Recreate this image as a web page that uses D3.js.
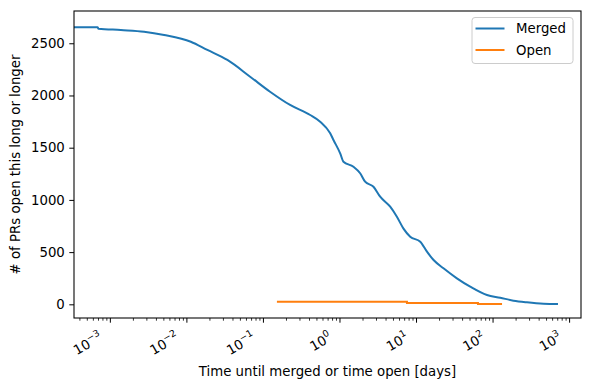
<!DOCTYPE html>
<html>
<head>
<meta charset="utf-8">
<script src="https://cdn.jsdelivr.net/npm/d3@7"></script>
<style>
  body { margin: 0; background: #fff; }
  text { font-family: "DejaVu Sans", sans-serif; fill: #000; }
</style>
</head>
<body>
<script>
// merged PRs: days until merged vs. number of PRs open at least that long
const MERGED_DAYS = [0.0003, 0.00068, 0.0007, 0.00137, 0.00276, 0.00504, 0.01125, 0.0185, 0.0338,
  0.067, 0.122, 0.223, 0.408, 0.551, 0.745, 0.822, 1.006, 1.11, 1.5, 1.835, 2.13, 2.74, 3.35,
  4.53, 5.54, 6.76, 8.27, 11.2, 13.7, 16.7, 22.5, 33.7, 50.3, 83.2, 124, 185, 277, 457, 705]
const MERGED_COUNT = [2653, 2653, 2640, 2627, 2611, 2580, 2515, 2436, 2340,
  2180, 2036, 1909, 1813, 1749, 1638, 1574, 1446, 1366, 1318, 1255, 1174, 1126, 1031,
  935, 839, 725, 647, 600, 504, 424, 345, 249, 169, 89, 63, 35, 19, 6, 3]

// still open PRs
const OPEN_DAYS = [0.15, 7.5, 63.5, 131]
const OPEN_COUNT = [25, 13, 3, 3]

const Y_TICKS = [0, 500, 1000, 1500, 2000, 2500]
const X_EXPONENTS = [-3, -2, -1, 0, 1, 2, 3]
const SERIES = ['Merged', 'Open']
const COLORS = ['#1f77b4', '#ff7f0e']

const WIDTH = 590
const HEIGHT = 390
const M = { left: 74, right: 581, top: 11, bottom: 318 }

const svg = d3.select('body').append('svg')
  .attr('width', WIDTH)
  .attr('height', HEIGHT)

const x = d3.scaleLog()
  .domain([3.35e-4, 1409])
  .range([M.left, M.right])

const y = d3.scaleLinear()
  .domain([-131, 2809])
  .range([M.bottom, M.top])

svg.append('clipPath').attr('id', 'clip')
  .append('rect')
  .attr('x', M.left).attr('y', M.top)
  .attr('width', M.right - M.left).attr('height', M.bottom - M.top)

const line = d3.line()
  .x(d => x(d[0]))
  .y(d => y(d[1]))

const plot = svg.append('g').attr('clip-path', 'url(#clip)')

plot.append('path')
  .datum(d3.zip(MERGED_DAYS, MERGED_COUNT))
  .attr('d', line.curve(d3.curveMonotoneX))
  .attr('fill', 'none')
  .attr('stroke', COLORS[0])
  .attr('stroke-width', 2)
  .attr('stroke-linejoin', 'round')

plot.append('path')
  .datum(d3.zip(OPEN_DAYS, OPEN_COUNT))
  .attr('d', line.curve(d3.curveStepAfter))
  .attr('fill', 'none')
  .attr('stroke', COLORS[1])
  .attr('stroke-width', 2)

// y axis
const yAxis = svg.append('g')
  .attr('transform', `translate(${M.left},0)`)
  .call(d3.axisLeft(y).tickValues(Y_TICKS).tickSize(4.7).tickPadding(4.5).tickFormat(d3.format('d')))
yAxis.select('.domain').remove()
yAxis.selectAll('text')
  .attr('font-size', 13.3)
  .attr('font-family', 'DejaVu Sans')

// x axis: major + minor ticks
const minor = []
for (let e = -4; e <= 3; e++) {
  for (let k = 2; k <= 9; k++) {
    const v = k * Math.pow(10, e)
    if (v >= x.domain()[0] && v <= x.domain()[1]) minor.push(v)
  }
}

const xAxis = svg.append('g').attr('transform', `translate(0,${M.bottom})`)
xAxis.selectAll('line.minor')
  .data(minor)
  .enter()
  .append('line')
  .attr('x1', d => x(d)).attr('x2', d => x(d))
  .attr('y1', 0).attr('y2', 2.7)
  .attr('stroke', '#000').attr('stroke-width', 0.8)

xAxis.selectAll('line.major')
  .data(X_EXPONENTS)
  .enter()
  .append('line')
  .attr('x1', d => x(Math.pow(10, d))).attr('x2', d => x(Math.pow(10, d)))
  .attr('y1', 0).attr('y2', 4.7)
  .attr('stroke', '#000').attr('stroke-width', 1)

const xl = xAxis.selectAll('text.tick')
  .data(X_EXPONENTS)
  .enter()
  .append('text')
  .attr('text-anchor', 'end')
  .attr('font-size', 13.3)
  .attr('transform', d => `translate(${x(Math.pow(10, d)) - 7},22) rotate(-30)`)
xl.append('tspan').text('10')
xl.append('tspan')
  .attr('font-size', 9.3)
  .attr('dy', -6)
  .text(d => String(d).replace('-', '\u2212'))

// frame
svg.append('rect')
  .attr('x', M.left).attr('y', M.top)
  .attr('width', M.right - M.left).attr('height', M.bottom - M.top)
  .attr('fill', 'none').attr('stroke', '#000').attr('stroke-width', 1.07)

// axis labels
svg.append('text')
  .attr('x', (M.left + M.right) / 2)
  .attr('y', 376)
  .attr('text-anchor', 'middle')
  .attr('font-size', 13.3)
  .text('Time until merged or time open [days]')

svg.append('text')
  .attr('transform', `translate(20,${(M.top + M.bottom) / 2}) rotate(-90)`)
  .attr('text-anchor', 'middle')
  .attr('font-size', 13.3)
  .text('# of PRs open this long or longer')

// legend
const legend = svg.append('g').attr('transform', 'translate(472,17.5)')
legend.append('rect')
  .attr('width', 101).attr('height', 46)
  .attr('rx', 3)
  .attr('fill', '#fff').attr('fill-opacity', 0.8)
  .attr('stroke', '#cccccc').attr('stroke-width', 1)

legend.selectAll('line')
  .data(SERIES)
  .enter()
  .append('line')
  .attr('x1', 3.5).attr('x2', 32.5)
  .attr('y1', (d, i) => 11 + i * 21.5).attr('y2', (d, i) => 11 + i * 21.5)
  .attr('stroke', (d, i) => COLORS[i]).attr('stroke-width', 2)

legend.selectAll('text')
  .data(SERIES)
  .enter()
  .append('text')
  .attr('x', 44)
  .attr('y', (d, i) => 15.8 + i * 21.5)
  .attr('font-size', 13.3)
  .text(d => d)
</script>
</body>
</html>
